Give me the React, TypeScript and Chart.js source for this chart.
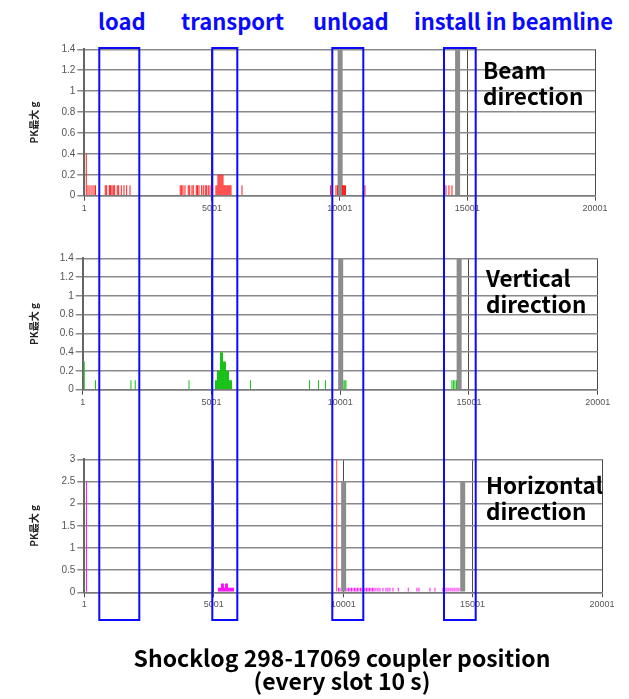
import React, { useEffect, useRef } from "react";
import { Chart, registerables } from "chart.js";

Chart.register(...registerables);

// ---------- data ----------
const xTicks = [1, 5001, 10001, 15001, 20001];
const yTicksSmall = [0, 0.2, 0.4, 0.6, 0.8, 1, 1.2, 1.4];
const yTicksLarge = [0, 0.5, 1, 1.5, 2, 2.5, 3];
const yTitle = "PK最大 g";

// grey slot markers (unload / install)
const markerX = [10020, 14620];
const markerY = [2.5, 2.5];

// Beam direction (red)
const beamX = [
  78, 145, 223, 302, 380, 439,
  822, 877, 979, 1006, 1034, 1085, 1136, 1190, 1292, 1347, 1449, 1555, 1660, 1790,
  3759, 3814, 3865, 3943, 4073, 4128, 4218, 4268, 4386, 4433, 4492, 4597, 4660, 4738, 4793, 4856, 4922, 5001,
  5157, 5197, 5236, 5275, 5314, 5353, 5393, 5432, 5471, 5510, 5549, 5589, 5628, 5667, 5706, 5745,
  6176,
  9641, 9720, 9857, 9915, 10111, 10150, 10190, 10229, 10992,
  14164, 14282, 14399,
];
const beamY = [
  0.4, 0.1, 0.1, 0.1, 0.1, 0.1,
  0.1, 0.1, 0.1, 0.1, 0.1, 0.1, 0.1, 0.1, 0.1, 0.1, 0.1, 0.1, 0.1, 0.1,
  0.1, 0.1, 0.1, 0.1, 0.1, 0.1, 0.1, 0.1, 0.1, 0.1, 0.1, 0.1, 0.1, 0.1, 0.1, 0.1, 0.1, 0.1,
  0.1, 0.1, 0.2, 0.2, 0.2, 0.2, 0.2, 0.2, 0.1, 0.1, 0.1, 0.1, 0.1, 0.1, 0.1, 0.1,
  0.1,
  0.1, 0.1, 0.1, 0.1, 0.1, 0.1, 0.1, 0.1, 0.1,
  0.1, 0.1, 0.1,
];

// Vertical direction (green)
const vertX = [
  60, 497, 1875, 2042, 4128,
  5157, 5196, 5235, 5273, 5312, 5351, 5390, 5429, 5468, 5506, 5545, 5584, 5623, 5662, 5700, 5739, 5778,
  6516, 8811, 9156, 9428,
  10146, 10185, 10224,
  14340, 14398, 14457, 14515,
];
const vertY = [
  0.3, 0.1, 0.1, 0.1, 0.1,
  0.1, 0.1, 0.2, 0.2, 0.2, 0.4, 0.4, 0.4, 0.3, 0.3, 0.3, 0.2, 0.2, 0.2, 0.1, 0.1, 0.1,
  0.1, 0.1, 0.1, 0.1,
  0.1, 0.1, 0.1,
  0.1, 0.1, 0.1, 0.1,
];

// Horizontal direction (magenta)
const horizX = [
  85,
  5185, 5224, 5262, 5301, 5340, 5378, 5417, 5455, 5494, 5533, 5571, 5610, 5649, 5687, 5726, 5765,
  9820, 9878,
  10149, 10206, 10264, 10322, 10380, 10438, 10496, 10554, 10612, 10670, 10728, 10786, 10844, 10902,
  10960, 11017, 11075, 11133, 11191, 11268, 11345, 11423, 11539, 11655, 11732, 11809, 11925,
  12130, 12516, 12852, 12930, 13354, 13548,
  13857, 13934, 14011, 14088, 14166, 14243, 14320, 14397, 14475,
];
const horizY = [
  2.5,
  0.1, 0.1, 0.1, 0.2, 0.2, 0.2, 0.1, 0.2, 0.2, 0.2, 0.1, 0.1, 0.1, 0.1, 0.1, 0.1,
  0.1, 0.1,
  0.1, 0.1, 0.1, 0.1, 0.1, 0.1, 0.1, 0.1, 0.1, 0.1, 0.1, 0.1, 0.1, 0.1,
  0.1, 0.1, 0.1, 0.1, 0.1, 0.1, 0.1, 0.1, 0.1, 0.1, 0.1, 0.1, 0.1,
  0.1, 0.1, 0.1, 0.1, 0.1, 0.1,
  0.1, 0.1, 0.1, 0.1, 0.1, 0.1, 0.1, 0.1, 0.1,
];
// Horizontal panel: single red trace
const horizRedX = [9752];
const horizRedY = [3.5];

// phases (blue frames), in slot units
const phaseNames = ["load", "transport", "unload", "install in beamline"];
const phaseStart = [645, 5034, 9694, 14032];
const phaseEnd = [2199, 6005, 10898, 15263];

const panelTitles = [
  ["Beam", "direction"],
  ["Vertical", "direction"],
  ["Horizontal", "direction"],
];

// ---------- layout ----------
const W = 629;
const panels = [
  { top: 40, height: 190, padTop: 9.3, padBottom: 10.3, padRight: 34, yWidth: 59.3, yMax: 1.4, yTicks: yTicksSmall },
  { top: 230, height: 200, padTop: 28.3, padBottom: 16.3, padRight: 31.3, yWidth: 57.7, yMax: 1.4, yTicks: yTicksSmall },
  { top: 430, height: 195, padTop: 29.3, padBottom: 8.7, padRight: 27, yWidth: 59.3, yMax: 3, yTicks: yTicksLarge },
];
const phaseLabelPos = [
  { left: 98, top: 5 },
  { left: 181, top: 5 },
  { left: 313, top: 5 },
  { left: 414, top: 5 },
];
const titlePos = [
  { left: 483, top: 56 },
  { left: 486, top: 264 },
  { left: 486, top: 471 },
];

const pts = (xs: number[], ys: number[]) => xs.map((x, i) => ({ x, y: ys[i] }));

function seriesFor(i: number) {
  if (i === 0) return [{ data: pts(beamX, beamY), color: "#ff1a1a" }];
  if (i === 1) return [{ data: pts(vertX, vertY), color: "#12c012" }];
  return [
    { data: pts(horizX, horizY), color: "#ff10ff" },
    { data: pts(horizRedX, horizRedY), color: "#ff4a4a" },
  ];
}

function buildChart(canvas: HTMLCanvasElement, i: number) {
  const p = panels[i];
  const datasets: any[] = [
    {
      data: pts(markerX, markerY),
      backgroundColor: "#8c8c8c",
      barThickness: 5,
      inflateAmount: 0,
      grouped: false,
      order: 3,
    },
    ...seriesFor(i).map((s) => ({
      data: s.data,
      backgroundColor: s.color,
      barThickness: 1,
      inflateAmount: 0,
      grouped: false,
      order: 1,
    })),
  ];
  return new Chart(canvas, {
    type: "bar",
    data: { datasets },
    options: {
      animation: false,
      responsive: false,
      events: [],
      layout: { padding: { left: 25, right: p.padRight, top: p.padTop, bottom: p.padBottom } },
      plugins: { legend: { display: false }, tooltip: { enabled: false } },
      scales: {
        x: {
          type: "linear",
          min: 1,
          max: 20001,
          offset: false,
          afterBuildTicks: (s: any) => {
            s.ticks = xTicks.map((v) => ({ value: v }));
          },
          afterFit: (s: any) => {
            s.height = 24;
          },
          grid: { color: "#4a4a4a", lineWidth: 1, tickLength: 5, offset: false },
          border: { display: true, color: "#7a7a7a", width: 1.5 },
          ticks: {
            color: "#555",
            font: { family: "Liberation Sans", size: 9 },
            padding: 2,
            maxRotation: 0,
            autoSkip: false,
            callback: (v: any) => String(v),
          },
        },
        y: {
          min: 0,
          max: p.yMax,
          afterBuildTicks: (s: any) => {
            s.ticks = p.yTicks.map((v) => ({ value: v }));
          },
          afterFit: (s: any) => {
            s.width = p.yWidth;
          },
          grid: { color: "#8a8a8a", lineWidth: 1.5, tickLength: 7 },
          border: { color: "#666", width: 2 },
          ticks: {
            color: "#555",
            font: { family: "Liberation Sans", size: 10 },
            padding: 2,
            callback: (v: any) => String(v),
          },
          title: {
            display: true,
            text: yTitle,
            color: "#222",
            font: { family: "Noto Sans CJK SC", size: 10, weight: "bold" },
            padding: { top: 3, bottom: 0 },
          },
        },
      },
    } as any,
  });
}

export default function App() {
  const c0 = useRef<HTMLCanvasElement>(null);
  const c1 = useRef<HTMLCanvasElement>(null);
  const c2 = useRef<HTMLCanvasElement>(null);
  const overlay = useRef<HTMLCanvasElement>(null);

  useEffect(() => {
    const canvases = [c0.current!, c1.current!, c2.current!];
    const charts = canvases.map((c, i) => buildChart(c, i));
    const ov = overlay.current!;
    const ctx = ov.getContext("2d")!;
    ctx.clearRect(0, 0, ov.width, ov.height);
    const sx = charts[1].scales.x;
    ctx.strokeStyle = "#0a0aff";
    ctx.lineWidth = 2;
    const boxTop = 48;
    const boxBottom = 620;
    for (let k = 0; k < phaseStart.length; k++) {
      const x0 = sx.getPixelForValue(phaseStart[k]);
      const x1 = sx.getPixelForValue(phaseEnd[k]);
      ctx.strokeRect(x0, boxTop, x1 - x0, boxBottom - boxTop);
    }
    return () => charts.forEach((ch) => ch.destroy());
  }, []);

  const refs = [c0, c1, c2];
  const font = "'Noto Sans CJK KR', 'Noto Sans', sans-serif";

  return (
    <div style={{ position: "absolute", left: 0, top: 0, width: W, height: 699, background: "#fff", overflow: "hidden" }}>
      {panels.map((p, i) => (
        <canvas
          key={i}
          ref={refs[i]}
          width={W}
          height={p.height}
          style={{ position: "absolute", left: 0, top: p.top, width: W, height: p.height, display: "block" }}
        />
      ))}
      {panelTitles.map((t, i) => (
        <div
          key={"t" + i}
          style={{
            position: "absolute",
            left: titlePos[i].left,
            top: titlePos[i].top,
            fontFamily: font,
            fontWeight: 700,
            fontSize: 22.5,
            lineHeight: "26px",
            color: "#000",
            whiteSpace: "nowrap",
          }}
        >
          {t[0]}
          <br />
          {t[1]}
        </div>
      ))}
      {phaseNames.map((n, i) => (
        <div
          key={"p" + i}
          style={{
            position: "absolute",
            left: phaseLabelPos[i].left,
            top: phaseLabelPos[i].top,
            fontFamily: font,
            fontWeight: 700,
            fontSize: 22,
            lineHeight: "30px",
            color: "#0a0aff",
            whiteSpace: "nowrap",
          }}
        >
          {n}
        </div>
      ))}
      <canvas
        ref={overlay}
        width={W}
        height={699}
        style={{ position: "absolute", left: 0, top: 0, width: W, height: 699, pointerEvents: "none" }}
      />
      <div
        style={{
          position: "absolute",
          left: 92,
          width: 500,
          top: 646,
          textAlign: "center",
          fontFamily: font,
          fontWeight: 700,
          fontSize: 23,
          lineHeight: "23px",
          color: "#000",
        }}
      >
        Shocklog 298-17069 coupler position
        <br />
        (every slot 10 s)
      </div>
    </div>
  );
}
